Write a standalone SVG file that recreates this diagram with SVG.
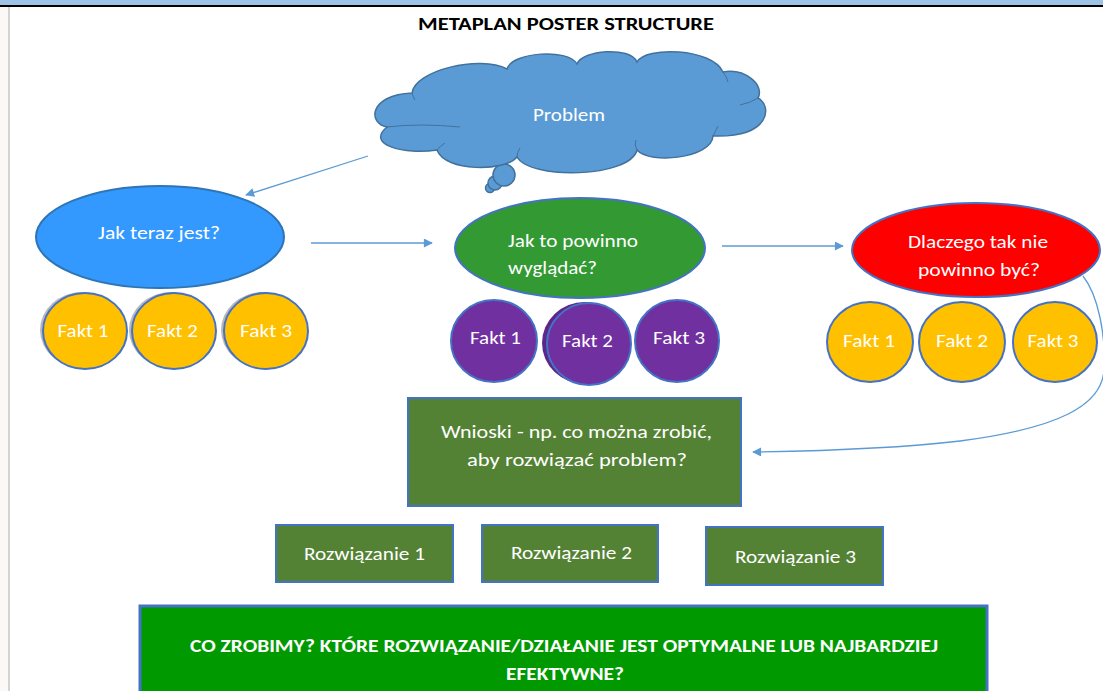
<svg xmlns="http://www.w3.org/2000/svg" width="1103" height="691" viewBox="0 0 1103 691">
<style>
text{font-family:Carlito,Lato,"Liberation Sans",sans-serif;fill:#fff;font-size:18px}
.t{text-anchor:middle}
.b{font-weight:bold}
.title{fill:#000;font-weight:bold;font-size:17px;text-anchor:middle}
.orange{fill:#ffc000;stroke:#4472c4;stroke-width:2}
.purple{fill:#7030a0;stroke:#4472c4;stroke-width:2}
.shadow{fill:#8a8a8a;opacity:0.6}
.box{fill:#548235;stroke:#4472c4;stroke-width:2}
.conn{fill:none;stroke:#5b9bd5;stroke-width:1.3}
.cl{fill:#5b9bd5;stroke:#41719c;stroke-width:1.5}
.inner{fill:none;stroke:#41719c;stroke-width:1}
</style>
<defs>
<marker id="ah" viewBox="0 0 10 10" refX="9" refY="5" markerWidth="10" markerHeight="9" markerUnits="userSpaceOnUse" orient="auto">
<path d="M0,0 L10,5 L0,10 z" fill="#5b9bd5"/>
</marker>
</defs>
<rect x="0" y="0" width="1103" height="691" fill="#fff"/>
<rect x="0" y="0" width="1103" height="5" fill="#9dc3e6"/>
<rect x="0" y="5" width="1103" height="2" fill="#000"/>
<rect x="0" y="7" width="8" height="684" fill="#fcf8f5"/>
<rect x="8" y="7" width="2" height="684" fill="#d4d4d4"/>
<text class="title" x="566" y="30" textLength="296" lengthAdjust="spacingAndGlyphs">METAPLAN POSTER STRUCTURE</text>

<g id="problem">
<circle class="cl" cx="490" cy="188" r="4.5"/>
<circle class="cl" cx="495" cy="183" r="7"/>
<circle class="cl" cx="504" cy="175" r="11"/>
<path class="cl" d="M387,127 C368,124 368,95 412,93 C415,70 480,55 507,69 C512,52 568,48 577,64 C582,50 630,46 637,62 C645,46 712,48 723,72 C745,68 765,85 758,98 C772,105 772,138 713,136 C712,158 650,165 637,150 C630,178 530,180 517,157 C505,172 445,172 437,150 C405,155 365,145 387,127 Z"/>
<path class="inner" d="M387,127 Q420,123 460,127 M723,72 Q727,77 728,82 M758,98 Q750,103 740,105 M713,136 Q716,130 718,126 M637,150 Q634,145 636,140 M517,157 Q517,152 520,148 M437,150 Q440,146 445,143 M412,93 Q413,97 415,100"/>
<text class="t" x="569" y="121" textLength="72" lengthAdjust="spacingAndGlyphs">Problem</text>
</g>

<g id="connectors">
<path class="conn" d="M368,156 L246,195" marker-end="url(#ah)"/>
<path class="conn" d="M311,243 L432,243" marker-end="url(#ah)"/>
<path class="conn" d="M722,246 L843,246" marker-end="url(#ah)"/>
<path class="conn" d="M1083,276 C1098,295 1106,335 1104,370 C1102,405 1060,428 960,441 C900,448 820,451 753,452" marker-end="url(#ah)"/>
</g>

<g id="jak-teraz">
<ellipse cx="160" cy="237" rx="124" ry="51" fill="#3399ff" stroke="#2e75b6" stroke-width="2"/>
<text class="t" x="159" y="239" textLength="122" lengthAdjust="spacingAndGlyphs">Jak teraz jest?</text>
</g>
<g id="fakt-l1">
<ellipse class="shadow" cx="82" cy="330" rx="42" ry="38"/>
<ellipse class="orange" cx="85" cy="331" rx="42" ry="38"/>
<text class="t" x="83" y="337" textLength="51" lengthAdjust="spacingAndGlyphs">Fakt 1</text>
</g>
<g id="fakt-l2">
<ellipse class="shadow" cx="171" cy="330" rx="42" ry="38"/>
<ellipse class="orange" cx="174" cy="331" rx="42" ry="38"/>
<text class="t" x="172.5" y="337" textLength="51" lengthAdjust="spacingAndGlyphs">Fakt 2</text>
</g>
<g id="fakt-l3">
<ellipse class="shadow" cx="263" cy="330" rx="42" ry="38"/>
<ellipse class="orange" cx="266" cy="331" rx="42" ry="38"/>
<text class="t" x="266" y="337" textLength="52" lengthAdjust="spacingAndGlyphs">Fakt 3</text>
</g>

<g id="jak-powinno">
<ellipse cx="580" cy="248" rx="125" ry="50" fill="#339933" stroke="#4472c4" stroke-width="2"/>
<text x="508" y="247" textLength="130" lengthAdjust="spacingAndGlyphs">Jak to powinno</text>
<text x="508" y="274" textLength="89" lengthAdjust="spacingAndGlyphs">wyglądać?</text>
</g>
<g id="fakt-m1">
<ellipse class="purple" cx="494" cy="341" rx="43" ry="41"/>
<text class="t" x="495.5" y="344" textLength="51" lengthAdjust="spacingAndGlyphs">Fakt 1</text>
</g>
<g id="fakt-m2">
<ellipse cx="585" cy="343" rx="43" ry="41" fill="#5e2688"/>
<ellipse class="purple" cx="589" cy="344" rx="42" ry="41"/>
<text class="t" x="587.5" y="347" textLength="51" lengthAdjust="spacingAndGlyphs">Fakt 2</text>
</g>
<g id="fakt-m3">
<ellipse class="purple" cx="677" cy="341" rx="42" ry="41"/>
<text class="t" x="679" y="344" textLength="52" lengthAdjust="spacingAndGlyphs">Fakt 3</text>
</g>

<g id="dlaczego">
<ellipse cx="976" cy="250" rx="124" ry="47" fill="#ff0000" stroke="#4472c4" stroke-width="2"/>
<text class="t" x="978" y="248" textLength="140" lengthAdjust="spacingAndGlyphs">Dlaczego tak nie</text>
<text class="t" x="979" y="276" textLength="122" lengthAdjust="spacingAndGlyphs">powinno być?</text>
</g>
<g id="fakt-r1">
<ellipse class="orange" cx="870" cy="342" rx="43" ry="40"/>
<text class="t" x="869" y="347" textLength="52" lengthAdjust="spacingAndGlyphs">Fakt 1</text>
</g>
<g id="fakt-r2">
<ellipse class="orange" cx="962" cy="342" rx="43" ry="40"/>
<text class="t" x="962" y="347" textLength="52" lengthAdjust="spacingAndGlyphs">Fakt 2</text>
</g>
<g id="fakt-r3">
<ellipse class="orange" cx="1055" cy="342" rx="42" ry="40"/>
<text class="t" x="1053" y="347" textLength="51" lengthAdjust="spacingAndGlyphs">Fakt 3</text>
</g>

<g id="wnioski">
<rect class="box" x="408" y="398" width="333" height="108"/>
<text class="t" x="576.5" y="438" textLength="271" lengthAdjust="spacingAndGlyphs">Wnioski - np. co można zrobić,</text>
<text class="t" x="577" y="466" textLength="220" lengthAdjust="spacingAndGlyphs">aby rozwiązać problem?</text>
</g>
<g id="rozw1">
<rect class="box" x="276" y="525" width="177" height="57"/>
<text class="t" x="364.5" y="560" textLength="121" lengthAdjust="spacingAndGlyphs">Rozwiązanie 1</text>
</g>
<g id="rozw2">
<rect class="box" x="482" y="525" width="176" height="57"/>
<text class="t" x="571.5" y="559" textLength="121" lengthAdjust="spacingAndGlyphs">Rozwiązanie 2</text>
</g>
<g id="rozw3">
<rect class="box" x="706" y="527" width="177" height="58"/>
<text class="t" x="795.5" y="563" textLength="121" lengthAdjust="spacingAndGlyphs">Rozwiązanie 3</text>
</g>

<g id="decyzja">
<rect x="140" y="606" width="847" height="90" fill="#009900" stroke="#4472c4" stroke-width="3"/>
<text class="t b" x="564" y="652" font-size="17" textLength="748" lengthAdjust="spacingAndGlyphs">CO ZROBIMY? KTÓRE ROZWIĄZANIE/DZIAŁANIE JEST OPTYMALNE LUB NAJBARDZIEJ</text>
<text class="t b" x="565" y="680" font-size="17" textLength="118" lengthAdjust="spacingAndGlyphs">EFEKTYWNE?</text>
</g>
</svg>
